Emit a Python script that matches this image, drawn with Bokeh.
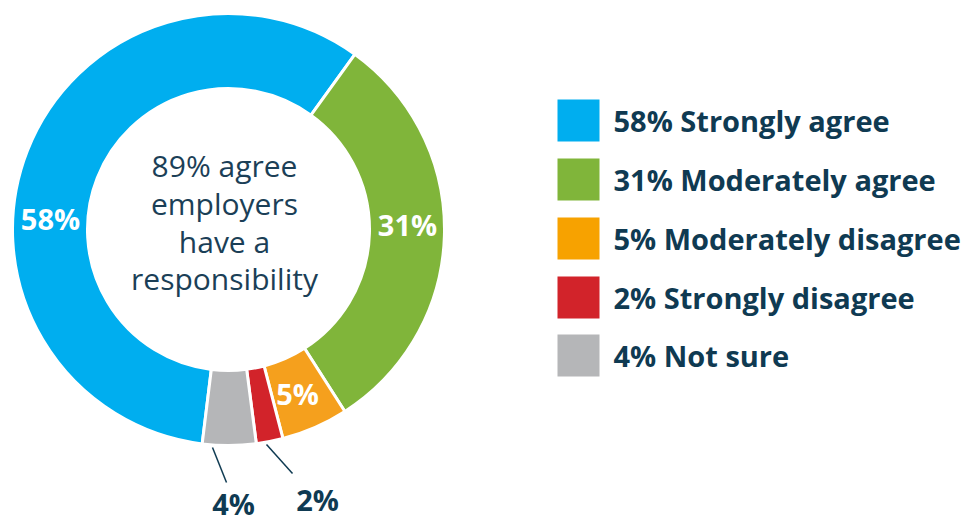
import math
from bokeh.plotting import figure
from bokeh.models import ColumnDataSource, Range1d
from bokeh.core.properties import value
from bokeh.embed import file_html
from bokeh.resources import INLINE

# ---- data ----
categories = ["Strongly agree", "Moderately agree", "Moderately disagree", "Strongly disagree", "Not sure"]
shares = [58, 31, 5, 2, 4]
colors = ["#00aeef", "#80b53a", "#f5a01d", "#d2232a", "#b5b6b8"]
legend_colors = ["#00aeef", "#80b53a", "#f7a200", "#d2232a", "#b5b6b8"]
center_lines = ["89% agree", "employers", "have a", "responsibility"]

NAVY = "#0f3a52"
W, H = 974, 523

def X(xi):
    return xi

def Y(yi):
    return H - yi

p = figure(width=W, height=H, output_backend="svg", toolbar_location=None,
           x_range=Range1d(0, W), y_range=Range1d(0, H), min_border=0)
p.axis.visible = False
p.grid.visible = False
p.outline_line_color = None
p.background_fill_color = "white"
p.border_fill_color = "white"

# donut geometry (image pixels)
cx, cy = 228, 229
r_out, r_in = 216, 141
start_cw = 35.8 - 3.6 * shares[0]  # clockwise degrees from 12 o'clock

starts, ends = [], []
acc = start_cw
for s in shares:
    a0 = acc
    a1 = acc + 3.6 * s
    starts.append(math.radians(90 - a0))
    ends.append(math.radians(90 - a1))
    acc = a1

src = ColumnDataSource(dict(start=starts, end=ends, color=colors))
p.annular_wedge(x=X(cx), y=Y(cy), inner_radius=r_in, outer_radius=r_out,
                start_angle="start", end_angle="end", direction="clock",
                fill_color="color", line_color="white", line_width=3, source=src)

# labels on slices
lbl_text = [f"{s}%" for s in shares]
lbl_x = [50, 407, 297, 317, 233]
lbl_y = [218, 224, 393, 499, 503]
lbl_col = ["white", "white", "white", NAVY, NAVY]
p.text(x=[X(v) for v in lbl_x], y=[Y(v) for v in lbl_y], text=lbl_text,
       text_color=lbl_col, text_font=value("Open Sans"), text_font_style="bold",
       text_font_size="29px", text_align="center", text_baseline="middle")

# leader lines
p.segment(x0=[X(212), X(266)], y0=[Y(447), Y(444)],
          x1=[X(226), X(292)], y1=[Y(482), Y(473)],
          line_color=NAVY, line_width=1.5)

# center text
ct_y = [165, 203, 241, 278]
p.text(x=[X(cx - 4)] * 4, y=[Y(v) for v in ct_y], text=center_lines,
       text_color="#1b3f57", text_font=value("Open Sans"), text_font_size="30px",
       text_align="center", text_baseline="middle")

# legend
leg_y = [120, 179, 238, 297, 355]
leg_lbl = [f"{s}% {c}" for s, c in zip(shares, categories)]
p.rect(x=[X(578)] * 5, y=[Y(v) for v in leg_y], width=42, height=42,
       fill_color=legend_colors, line_color=None)
p.text(x=[X(613)] * 5, y=[Y(v) for v in leg_y], text=leg_lbl,
       text_color=NAVY, text_font=value("Open Sans"), text_font_style="bold",
       text_font_size="29px", text_align="left", text_baseline="middle")

open("out.html", "w").write(file_html(p, INLINE))
